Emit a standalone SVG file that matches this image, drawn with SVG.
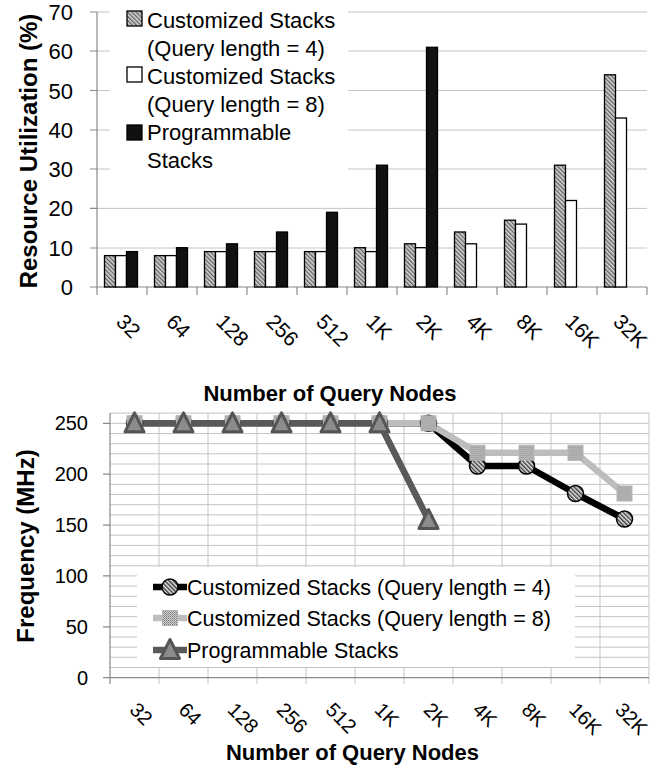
<svg xmlns="http://www.w3.org/2000/svg" width="654" height="774" viewBox="0 0 654 774">
<defs>
<pattern id="hatch" width="3" height="3" patternUnits="userSpaceOnUse" patternTransform="rotate(-45)">
<rect width="3" height="3" fill="#d8d8d8"/><line x1="0.75" y1="0" x2="0.75" y2="3" stroke="#5a5a5a" stroke-width="1.3"/>
</pattern>
<pattern id="chatch" width="3" height="3" patternUnits="userSpaceOnUse" patternTransform="rotate(-45)">
<rect width="3" height="3" fill="#e6e6e6"/><line x1="0.75" y1="0" x2="0.75" y2="3" stroke="#333" stroke-width="1.4"/>
</pattern>
<pattern id="dots" width="2" height="2" patternUnits="userSpaceOnUse">
<rect width="2" height="2" fill="#d0d0d0"/><rect width="1" height="1" fill="#7a7a7a"/><rect x="1" y="1" width="1" height="1" fill="#9a9a9a"/>
</pattern>
<g id="circ"><circle r="8" fill="url(#chatch)" stroke="#000" stroke-width="1.5"/></g>
<g id="sq"><rect x="-7.5" y="-7.5" width="15" height="15" fill="url(#dots)" stroke="#b5b5b5" stroke-width="1"/></g>
<g id="tri"><polygon points="0,-10.5 9.5,8.5 -9.5,8.5" fill="#8c8c8c" stroke="#555" stroke-width="3" stroke-linejoin="round"/></g>
</defs>
<style>
text{font-family:"Liberation Sans",Arial,sans-serif;fill:#000}
.t22{font-size:22px}
.t21{font-size:21px}
.t20{font-size:20px}
.lg{font-size:21.5px}
.ttl{font-size:24px;font-weight:bold}
.xt{font-size:22px;font-weight:bold}
.grid{stroke:#c4c4c4;stroke-width:1;fill:none}
.axis{stroke:#8a8a8a;stroke-width:1.2;fill:none}
.bh{fill:url(#hatch);stroke:#000;stroke-width:1.3}
.bw{fill:#fff;stroke:#000;stroke-width:1.3}
.bb{fill:#111;stroke:#000;stroke-width:1.3}
.ra{text-anchor:end}
</style>
<rect width="654" height="774" fill="#fff"/>

<!-- ===== Top chart ===== -->
<g id="top-grid">
<path class="grid" d="M97 248H647M97 208.4H647M97 169H647M97 130H647M97 90.5H647M97 51H647M97 12H647"/>
<path class="axis" d="M90 287H97M90 248H97M90 208.4H97M90 169H97M90 130H97M90 90.5H97M90 51H97M90 12H97"/>
<path class="axis" d="M97 12V295M97 287H647M147 287V295M197 287V295M247 287V295M297 287V295M347 287V295M397 287V295M447 287V295M497 287V295M547 287V295M597 287V295M647 287V295"/>
</g>
<g id="top-legend-bg"><rect x="110" y="0" width="238" height="200" fill="#fff"/></g>
<g id="top-yticks" class="t22">
<text class="ra" x="73" y="295">0</text>
<text class="ra" x="73" y="256">10</text>
<text class="ra" x="73" y="216.4">20</text>
<text class="ra" x="73" y="177">30</text>
<text class="ra" x="73" y="138">40</text>
<text class="ra" x="73" y="98.5">50</text>
<text class="ra" x="73" y="59">60</text>
<text class="ra" x="73" y="20">70</text>
</g>
<g id="top-ytitle"><text class="ttl" text-anchor="middle" transform="translate(37,151) rotate(-90)">Resource Utilization (%)</text></g>
<g id="bars">
<rect class="bh" x="104.5" y="255.6" width="11" height="31.4"/><rect class="bw" x="115.5" y="255.6" width="11" height="31.4"/><rect class="bb" x="126.5" y="251.6" width="11" height="35.4"/>
<rect class="bh" x="154.5" y="255.6" width="11" height="31.4"/><rect class="bw" x="165.5" y="255.6" width="11" height="31.4"/><rect class="bb" x="176.5" y="247.7" width="11" height="39.3"/>
<rect class="bh" x="204.5" y="251.6" width="11" height="35.4"/><rect class="bw" x="215.5" y="251.6" width="11" height="35.4"/><rect class="bb" x="226.5" y="243.8" width="11" height="43.2"/>
<rect class="bh" x="254.5" y="251.6" width="11" height="35.4"/><rect class="bw" x="265.5" y="251.6" width="11" height="35.4"/><rect class="bb" x="276.5" y="232" width="11" height="55"/>
<rect class="bh" x="304.5" y="251.6" width="11" height="35.4"/><rect class="bw" x="315.5" y="251.6" width="11" height="35.4"/><rect class="bb" x="326.5" y="212.3" width="11" height="74.7"/>
<rect class="bh" x="354.5" y="247.7" width="11" height="39.3"/><rect class="bw" x="365.5" y="251.6" width="11" height="35.4"/><rect class="bb" x="376.5" y="165.2" width="11" height="121.8"/>
<rect class="bh" x="404.5" y="243.8" width="11" height="43.2"/><rect class="bw" x="415.5" y="247.7" width="11" height="39.3"/><rect class="bb" x="426.5" y="47.3" width="11" height="239.7"/>
<rect class="bh" x="454.5" y="232" width="11" height="55"/><rect class="bw" x="465.5" y="243.8" width="11" height="43.2"/>
<rect class="bh" x="504.5" y="220.2" width="11" height="66.8"/><rect class="bw" x="515.5" y="224.1" width="11" height="62.9"/>
<rect class="bh" x="554.5" y="165.2" width="11" height="121.8"/><rect class="bw" x="565.5" y="200.5" width="11" height="86.5"/>
<rect class="bh" x="604.5" y="74.8" width="11" height="212.2"/><rect class="bw" x="615.5" y="118" width="11" height="169"/>
</g>
<g id="top-legend">
<rect class="bh" x="127" y="11" width="15" height="15" stroke-width="1"/>
<text class="t22" x="147" y="28">Customized Stacks</text>
<text class="t22" x="147" y="56">(Query length = 4)</text>
<rect class="bw" x="127" y="67" width="15" height="15" stroke-width="1"/>
<text class="t22" x="147" y="84">Customized Stacks</text>
<text class="t22" x="147" y="112">(Query length = 8)</text>
<rect class="bb" x="127" y="125" width="15" height="15" stroke-width="1"/>
<text class="t22" x="147" y="140">Programmable</text>
<text class="t22" x="147" y="168">Stacks</text>
</g>
<g id="top-xlabels" class="t21">
<text transform="translate(115,323) rotate(45)">32</text>
<text transform="translate(165,323) rotate(45)">64</text>
<text transform="translate(215,323) rotate(45)">128</text>
<text transform="translate(265,323) rotate(45)">256</text>
<text transform="translate(315,323) rotate(45)">512</text>
<text transform="translate(365,323) rotate(45)">1K</text>
<text transform="translate(415,323) rotate(45)">2K</text>
<text transform="translate(465,323) rotate(45)">4K</text>
<text transform="translate(515,323) rotate(45)">8K</text>
<text transform="translate(564,323) rotate(45)">16K</text>
<text transform="translate(612,323) rotate(45)">32K</text>
</g>
<g id="top-xtitle"><text class="xt" text-anchor="middle" x="330" y="401">Number of Query Nodes</text></g>

<!-- ===== Bottom chart ===== -->
<g id="bottom-grid">
<path class="grid" d="M110 667.5H649M110 657.3H649M110 647.2H649M110 637H649M110 626.8H649M110 616.6H649M110 606.5H649M110 596.3H649M110 586.1H649M110 575.9H649M110 565.8H649M110 555.6H649M110 545.4H649M110 535.2H649M110 525.1H649M110 514.9H649M110 504.7H649M110 494.5H649M110 484.4H649M110 474.2H649M110 464H649M110 453.8H649M110 443.7H649M110 433.5H649M110 423.3H649M110 413.1H649"/>
<path class="grid" d="M159 413.1V684M208 413.1V684M257 413.1V684M306 413.1V684M355 413.1V684M404 413.1V684M453 413.1V684M502 413.1V684M551 413.1V684M600 413.1V684M649 413.1V684"/>
<path class="axis" d="M110 413.1V684M110 677.7H649M103 677.7H110M103 626.8H110M103 575.9H110M103 525.1H110M103 474.2H110M103 423.3H110"/>
</g>
<g id="bottom-yticks" class="t20">
<text class="ra" x="88" y="684.7">0</text>
<text class="ra" x="88" y="633.8">50</text>
<text class="ra" x="88" y="582.9">100</text>
<text class="ra" x="88" y="532.1">150</text>
<text class="ra" x="88" y="481.2">200</text>
<text class="ra" x="88" y="430.3">250</text>
</g>
<g id="bottom-ytitle"><text class="ttl" text-anchor="middle" transform="translate(34,546) rotate(-90)">Frequency (MHz)</text></g>
<g id="connectors">
<polyline id="s-c4" points="134.5,423.3 183.5,423.3 232.5,423.3 281.5,423.3 330.5,423.3 379.5,423.3 428.5,423.3 477.5,466 526.5,466 575.5,493.5 624.5,519" fill="none" stroke="#000" stroke-width="6.5" stroke-linejoin="round"/>
<polyline id="s-c8" points="134.5,423.3 183.5,423.3 232.5,423.3 281.5,423.3 330.5,423.3 379.5,423.3 428.5,423.3 477.5,452.8 526.5,452.8 575.5,452.8 624.5,493.5" fill="none" stroke="#bdbdbd" stroke-width="6.5" stroke-linejoin="round"/>
<polyline id="s-pr" points="134.5,423.3 183.5,423.3 232.5,423.3 281.5,423.3 330.5,423.3 379.5,423.3 428.5,520" fill="none" stroke="#5a5a5a" stroke-width="6.5" stroke-linejoin="round"/>
</g>
<g id="markers-c4">
<use href="#circ" x="134.5" y="423.3"/><use href="#circ" x="183.5" y="423.3"/><use href="#circ" x="232.5" y="423.3"/><use href="#circ" x="281.5" y="423.3"/><use href="#circ" x="330.5" y="423.3"/><use href="#circ" x="379.5" y="423.3"/><use href="#circ" x="428.5" y="423.3"/>
<use href="#circ" x="477.5" y="466"/><use href="#circ" x="526.5" y="466"/><use href="#circ" x="575.5" y="493.5"/><use href="#circ" x="624.5" y="519"/>
</g>
<g id="markers-c8">
<use href="#sq" x="134.5" y="423.3"/><use href="#sq" x="183.5" y="423.3"/><use href="#sq" x="232.5" y="423.3"/><use href="#sq" x="281.5" y="423.3"/><use href="#sq" x="330.5" y="423.3"/><use href="#sq" x="379.5" y="423.3"/><use href="#sq" x="428.5" y="423.3"/>
<use href="#sq" x="477.5" y="452.8"/><use href="#sq" x="526.5" y="452.8"/><use href="#sq" x="575.5" y="452.8"/><use href="#sq" x="624.5" y="493.5"/>
</g>
<g id="markers-pr">
<use href="#tri" x="134.5" y="423.3"/><use href="#tri" x="183.5" y="423.3"/><use href="#tri" x="232.5" y="423.3"/><use href="#tri" x="281.5" y="423.3"/><use href="#tri" x="330.5" y="423.3"/><use href="#tri" x="379.5" y="423.3"/><use href="#tri" x="428.5" y="520"/>
</g>
<g id="bottom-legend">
<rect x="137" y="567" width="438" height="100" fill="#fff"/>
<line x1="153" y1="587" x2="187" y2="587" stroke="#000" stroke-width="6.5"/><use href="#circ" x="170" y="587"/>
<text class="lg" x="187" y="595">Customized Stacks (Query length = 4)</text>
<line x1="153" y1="618" x2="187" y2="618" stroke="#bdbdbd" stroke-width="6.5"/><use href="#sq" x="170" y="618"/>
<text class="lg" x="187" y="626">Customized Stacks (Query length = 8)</text>
<line x1="153" y1="650" x2="187" y2="650" stroke="#5a5a5a" stroke-width="6.5"/><use href="#tri" x="170" y="650"/>
<text class="lg" x="187" y="658">Programmable Stacks</text>
</g>
<g id="bottom-xlabels" class="t20">
<text transform="translate(128.5,711) rotate(45)">32</text>
<text transform="translate(177.5,711) rotate(45)">64</text>
<text transform="translate(226.5,711) rotate(45)">128</text>
<text transform="translate(275.5,711) rotate(45)">256</text>
<text transform="translate(324.5,711) rotate(45)">512</text>
<text transform="translate(373.5,711) rotate(45)">1K</text>
<text transform="translate(422.5,711) rotate(45)">2K</text>
<text transform="translate(471.5,711) rotate(45)">4K</text>
<text transform="translate(520.5,711) rotate(45)">8K</text>
<text transform="translate(568,711) rotate(45)">16K</text>
<text transform="translate(614,711) rotate(45)">32K</text>
</g>
<g id="bottom-xtitle"><text class="xt" text-anchor="middle" x="352.5" y="760">Number of Query Nodes</text></g>
</svg>
